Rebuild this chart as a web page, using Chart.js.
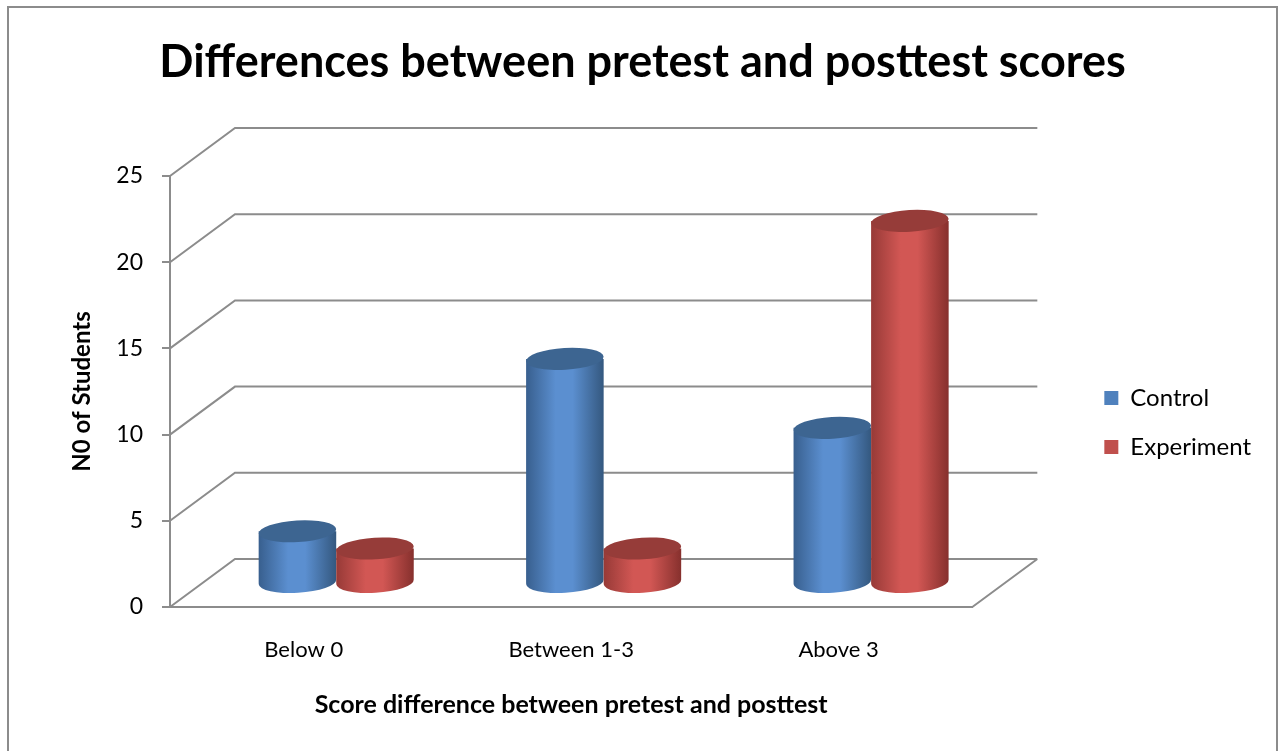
<!DOCTYPE html>
<html>
<head>
<meta charset="utf-8">
<script src="https://cdn.jsdelivr.net/npm/chart.js@4.4.1/dist/chart.umd.min.js"></script>
<style>
  html, body { margin: 0; padding: 0; background: #fff; }
  #wrap { width: 1280px; height: 751px; }
</style>
</head>
<body>
<div id="wrap"><canvas id="scoreChart" width="1280" height="751"></canvas></div>
<script>
// chart data
const categories = ['Below 0', 'Between 1-3', 'Above 3'];
const controlValues = [3, 13, 9];
const experimentValues = [2, 2, 21];
const seriesNames = ['Control', 'Experiment'];

// 3d look: depth of the plot box
const DX = 65, DY = -48;
const shades = [
  {left: '#385f8e', mid: '#5b8fd0', right: '#34587f', cap: '#3d6591'},
  {left: '#973a37', mid: '#d25754', right: '#86302d', cap: '#963c39'}
];

function drawCylinder(ctx, bar, sh){
  const rx = bar.width / 2, ry = rx * 0.28;
  const cx = bar.x + DX / 2;
  const top = bar.y + DY / 2, bot = bar.base + DY / 2;
  const g = ctx.createLinearGradient(cx - rx, 0, cx + rx, 0);
  g.addColorStop(0, sh.left);
  g.addColorStop(0.38, sh.mid);
  g.addColorStop(0.6, sh.mid);
  g.addColorStop(1, sh.right);
  ctx.beginPath();
  ctx.moveTo(cx - rx, top);
  ctx.lineTo(cx - rx, bot);
  ctx.ellipse(cx, bot, rx, ry, -0.06, Math.PI, 0, true);
  ctx.lineTo(cx + rx, top);
  ctx.closePath();
  ctx.fillStyle = g;
  ctx.fill();
  ctx.beginPath();
  ctx.ellipse(cx, top, rx, ry, -0.06, 0, Math.PI * 2);
  ctx.fillStyle = sh.cap;
  ctx.fill();
}

const box3d = {
  id: 'box3d',
  beforeDraw(chart){
    const ctx = chart.ctx;
    ctx.save();
    ctx.strokeStyle = '#8c8c8c';
    ctx.lineWidth = 2;
    ctx.strokeRect(8, 7, 1269, 800);
    ctx.restore();
  },
  beforeDatasetsDraw(chart){
    const {ctx, chartArea: a} = chart;
    const y = chart.scales.y;
    ctx.save();
    ctx.strokeStyle = '#8c8c8c';
    ctx.lineWidth = 2;
    ctx.beginPath();
    y.ticks.forEach(t => {
      const py = y.getPixelForValue(t.value);
      ctx.moveTo(a.left, py);
      ctx.lineTo(a.left + DX, py + DY);
      ctx.lineTo(a.right + DX, py + DY);
    });
    ctx.moveTo(a.right, a.bottom);
    ctx.lineTo(a.right + DX, a.bottom + DY);
    ctx.stroke();
    chart.data.datasets.forEach((ds, i) => {
      chart.getDatasetMeta(i).data.forEach(bar => drawCylinder(ctx, bar, shades[i]));
    });
    ctx.restore();
    return false;
  }
};

const ctx = document.getElementById('scoreChart').getContext('2d');

// legend width -> right padding so the legend boxes start at x=1104
const legendSize = 24, legendPad = 25, legendBox = 14;
ctx.font = legendSize + 'px Lato';
const textW = Math.max(...seriesNames.map(n => ctx.measureText(n).width));
const legendW = legendPad + legendBox + legendSize / 2 + textW + 10;
const padRight = Math.round(1280 - (1104 - legendPad) - legendW);
const padLeft = 24;

new Chart(ctx, {
  type: 'bar',
  data: {
    labels: categories,
    datasets: [
      {label: seriesNames[0], data: controlValues, backgroundColor: '#4f81bd'},
      {label: seriesNames[1], data: experimentValues, backgroundColor: '#c0504d'}
    ]
  },
  options: {
    responsive: false,
    animation: false,
    layout: {padding: {left: padLeft, right: padRight, top: 0, bottom: 0}},
    datasets: {bar: {barPercentage: 1, categoryPercentage: 0.58}},
    plugins: {
      title: {
        display: true,
        text: 'Differences between pretest and posttest scores',
        color: '#000',
        font: {family: 'Lato', size: 45, weight: 'bold'},
        padding: {top: 35, bottom: 87}
      },
      legend: {
        position: 'right',
        align: 'start',
        fullSize: false,
        title: {display: true, text: '', font: {size: 10}, padding: {top: 0, bottom: 173}},
        labels: {
          color: '#000',
          font: {family: 'Lato', size: legendSize},
          boxWidth: legendBox, boxHeight: legendBox, padding: legendPad
        }
      },
      tooltip: {enabled: false}
    },
    scales: {
      x: {
        grid: {display: false},
        border: {display: true, color: '#8c8c8c', width: 2},
        ticks: {color: '#000', font: {family: 'Lato', size: 22}, padding: 22},
        title: {
          display: true,
          text: 'Score difference between pretest and posttest',
          color: '#000',
          font: {family: 'Lato', size: 25, weight: 'bold'},
          padding: {top: 0, bottom: 31}
        },
        afterFit(scale){ scale.height = 144; }
      },
      y: {
        min: 0, max: 25,
        grid: {drawOnChartArea: false, drawTicks: true, tickLength: 8, color: '#8c8c8c', lineWidth: 2},
        border: {display: true, color: '#8c8c8c', width: 2},
        ticks: {stepSize: 5, color: '#000', font: {family: 'Lato', size: 23}, padding: 19},
        title: {
          display: true,
          text: 'N0 of Students',
          color: '#000',
          font: {family: 'Lato', size: 24, weight: 'bold'},
          padding: {top: 68 - padLeft, bottom: 0}
        },
        afterFit(scale){ scale.width = 170 - padLeft; }
      },
      y2: {
        position: 'right',
        display: true,
        grid: {display: false},
        border: {display: false},
        ticks: {display: false},
        afterFit(scale){ scale.width = 1104 - legendPad - 972; }
      }
    }
  },
  plugins: [box3d]
});
</script>
</body>
</html>
